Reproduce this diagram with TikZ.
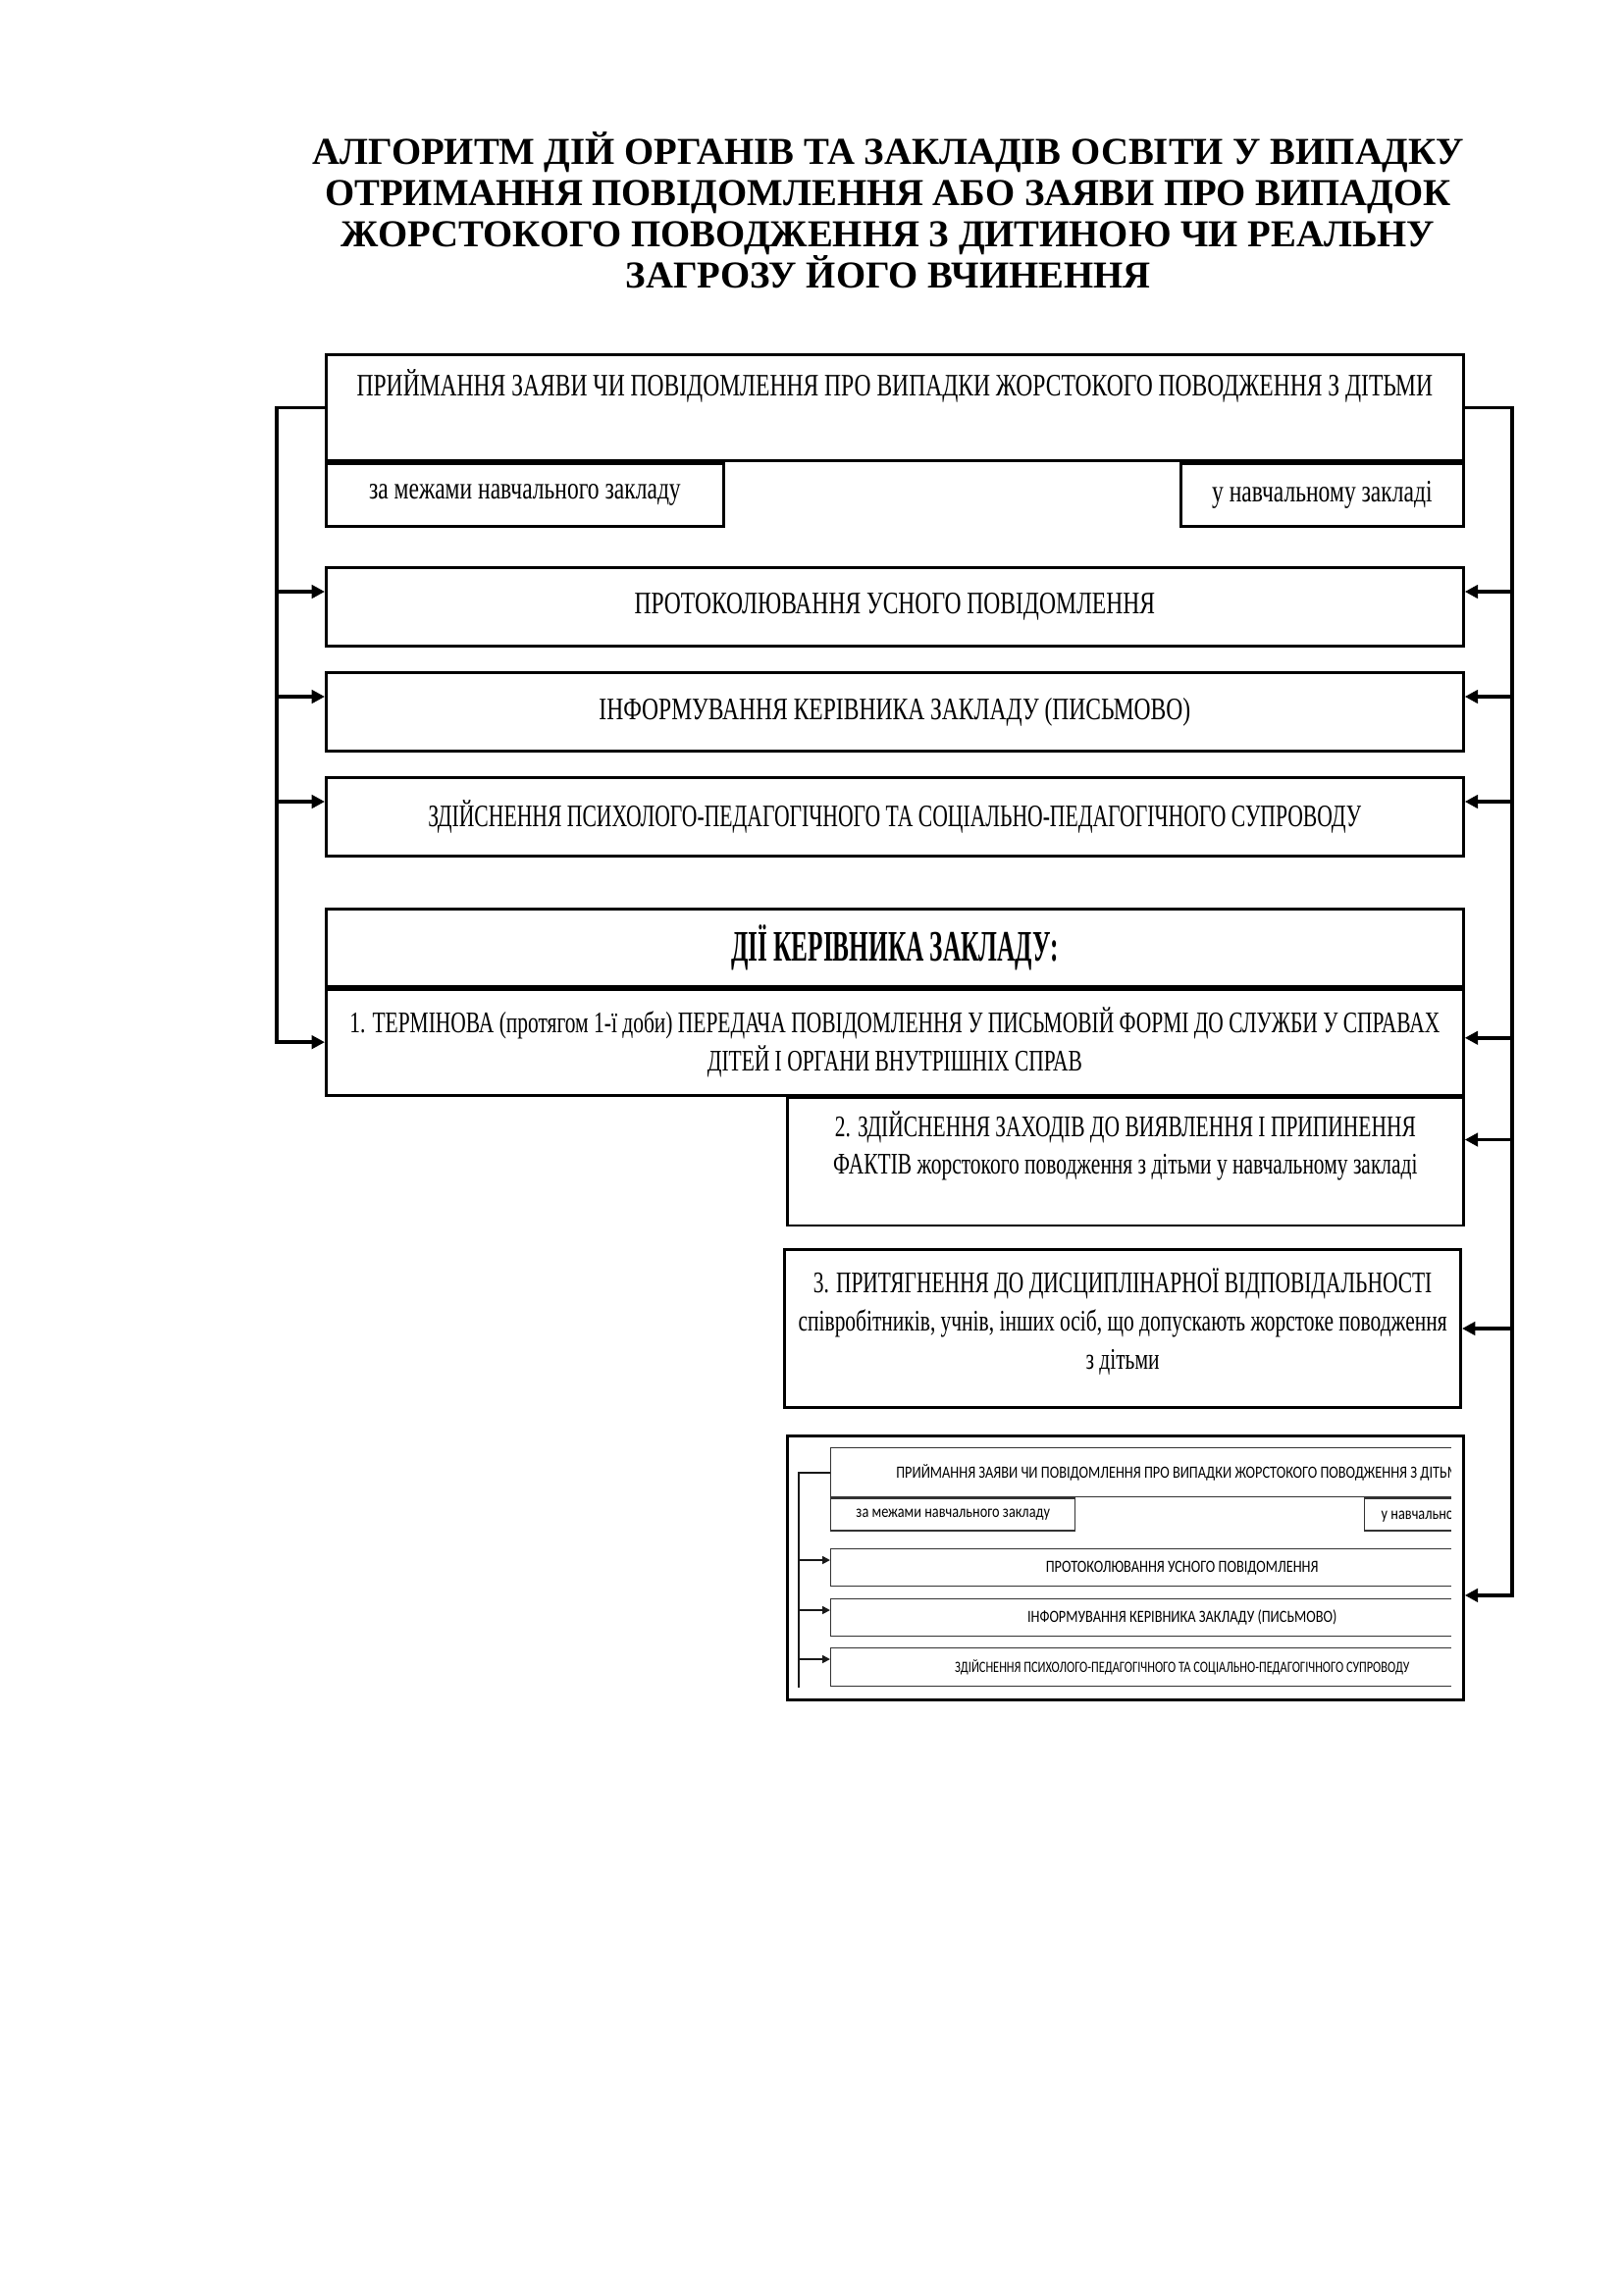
\documentclass[tikz,border=0pt]{standalone}
\usepackage{fontspec}
\setmainfont{Liberation Serif}
\newfontfamily\boxserif[FakeStretch=0.74]{Liberation Serif}
\newfontfamily\suppserif[FakeStretch=0.68]{Liberation Serif}
\newfontfamily\itemserif[FakeStretch=0.705]{Liberation Serif}
\newfontfamily\hdserif[FakeStretch=0.57]{Liberation Serif}
\newfontfamily\minisans[FakeStretch=0.82]{Carlito}
\newfontfamily\minisupp[FakeStretch=0.77]{Carlito}
\usetikzlibrary{arrows.meta,positioning,calc}

\newcommand{\pxl}{0.12697mm}
\newcommand{\ttlfont}{\bfseries\fontsize{14}{15.1}\selectfont}
\newcommand{\boxfont}{\boxserif\fontsize{11.5}{13}\selectfont}
\newcommand{\itmfont}{\itemserif\fontsize{11}{14}\selectfont}
\newcommand{\hdfont}{\hdserif\bfseries\fontsize{16}{18}\selectfont}
\newcommand{\minifont}{\minisans\fontsize{6.3}{7}\selectfont}

\tikzset{
  every node/.append style={inner sep=0pt},
}
\tikzset{
  box/.style={draw, line width=1pt, align=center},
  wide/.style={box, minimum width=1159*\pxl, minimum height=80*\pxl, font=\boxfont},
  arr/.style={-{Triangle[length=1.7mm,width=1.7mm]}, line width=1.3pt},
  minibox/.style={draw=black!80, line width=0.5pt, align=center, font=\minifont},
  minirail/.style={draw=black!90, line width=0.6pt},
  miniarr/.style={minirail, -{Triangle[length=1mm,width=1mm]}}
}

\begin{document}
\begin{tikzpicture}[x=0.12697mm, y=-0.12697mm]
\useasboundingbox (0,0) rectangle (1654,2339);

% ============= Title =============
\node[font=\ttlfont, align=center] (title) at (905,214)
  {АЛГОРИТМ ДІЙ ОРГАНІВ ТА ЗАКЛАДІВ ОСВІТИ У ВИПАДКУ\\
   ОТРИМАННЯ ПОВІДОМЛЕННЯ АБО ЗАЯВИ ПРО ВИПАДОК\\
   ЖОРСТОКОГО ПОВОДЖЕННЯ З ДИТИНОЮ ЧИ РЕАЛЬНУ\\
   ЗАГРОЗУ ЙОГО ВЧИНЕННЯ};

% ============= Intake =============
\node[box, minimum width=1159*\pxl, minimum height=108*\pxl, anchor=north west] (recv) at (331,360) {};
\node[font=\boxfont] (recvtxt) at ([yshift=-33*\pxl]recv.north)
  {ПРИЙМАННЯ ЗАЯВИ ЧИ ПОВІДОМЛЕННЯ ПРО ВИПАДКИ ЖОРСТОКОГО ПОВОДЖЕННЯ З ДІТЬМИ};
\node[box, font=\boxfont, minimum width=405*\pxl, minimum height=64*\pxl,
      anchor=north west] (outside) at (recv.south west) {за межами навчального закладу};
\node[box, font=\boxfont, minimum width=288*\pxl, minimum height=64*\pxl,
      anchor=north east] (inside) at (recv.south east) {у навчальному закладі};

% ============= Common steps =============
\node[wide, anchor=north west] (prot) at (331,577) {ПРОТОКОЛЮВАННЯ УСНОГО ПОВІДОМЛЕННЯ};
\node[wide, anchor=north west] (inf) at (331,684) {ІНФОРМУВАННЯ КЕРІВНИКА ЗАКЛАДУ (ПИСЬМОВО)};
\node[wide, font=\suppserif\fontsize{11.5}{13}\selectfont, anchor=north west] (supp) at (331,791)
  {ЗДІЙСНЕННЯ ПСИХОЛОГО-ПЕДАГОГІЧНОГО ТА СОЦІАЛЬНО-ПЕДАГОГІЧНОГО СУПРОВОДУ};

% ============= Head actions =============
\node[wide, font=\hdfont, minimum height=79*\pxl, anchor=north west] (head) at (331,925)
  {ДІЇ КЕРІВНИКА ЗАКЛАДУ:};
\node[wide, font=\itmfont, minimum height=108*\pxl, anchor=north west] (act1) at (head.south west)
  {1. ТЕРМІНОВА (протягом 1-ї доби) ПЕРЕДАЧА ПОВІДОМЛЕННЯ У ПИСЬМОВІЙ ФОРМІ ДО СЛУЖБИ У СПРАВАХ\\
   ДІТЕЙ І ОРГАНИ ВНУТРІШНІХ СПРАВ};

\node[box, minimum width=689*\pxl, minimum height=130*\pxl, anchor=north east] (act2) at (act1.south east) {};
\node[font=\itmfont, align=center] (act2txt) at ([yshift=16*\pxl]act2.center)
  {2. ЗДІЙСНЕННЯ ЗАХОДІВ ДО ВИЯВЛЕННЯ І ПРИПИНЕННЯ\\
   ФАКТІВ жорстокого поводження з дітьми у навчальному закладі};

\node[box, minimum width=689*\pxl, minimum height=161*\pxl, anchor=north east] (act3) at (1490,1272) {};
\node[font=\itmfont, align=center] (act3txt) at ([yshift=7*\pxl]act3.center)
  {3. ПРИТЯГНЕННЯ ДО ДИСЦИПЛІНАРНОЇ ВІДПОВІДАЛЬНОСТІ\\
   співробітників, учнів, інших осіб, що допускають жорстоке поводження\\
   з дітьми};

% ============= Scheme picture =============
\node[box, minimum width=689*\pxl, minimum height=269*\pxl, anchor=north west] (scheme) at (801,1462) {};
\begin{scope}
  \clip (scheme.north west) rectangle ([xshift=-14*\pxl]scheme.south east);
  \node[minibox, minimum width=716*\pxl, minimum height=50*\pxl, anchor=north west] (mrecv) at (846,1475)
    {ПРИЙМАННЯ ЗАЯВИ ЧИ ПОВІДОМЛЕННЯ ПРО ВИПАДКИ ЖОРСТОКОГО ПОВОДЖЕННЯ З ДІТЬМИ};
  \node[minibox, minimum width=249*\pxl, minimum height=33*\pxl, anchor=north west] (mout) at (mrecv.south west)
    {за межами навчального закладу};
  \node[minibox, minimum width=172*\pxl, minimum height=33*\pxl, anchor=north east] (min) at (mrecv.south east)
    {у навчальному закладі};
  \node[minibox, minimum width=716*\pxl, minimum height=38*\pxl, anchor=north west] (mprot) at (846,1578)
    {ПРОТОКОЛЮВАННЯ УСНОГО ПОВІДОМЛЕННЯ};
  \node[minibox, minimum width=716*\pxl, minimum height=38*\pxl, anchor=north west] (minf) at (846,1629)
    {ІНФОРМУВАННЯ КЕРІВНИКА ЗАКЛАДУ (ПИСЬМОВО)};
  \node[minibox, minimum width=716*\pxl, minimum height=39*\pxl, anchor=north west,
        font=\minisupp\fontsize{5.8}{6.5}\selectfont] (msupp) at (846,1679)
    {ЗДІЙСНЕННЯ ПСИХОЛОГО-ПЕДАГОГІЧНОГО ТА СОЦІАЛЬНО-ПЕДАГОГІЧНОГО СУПРОВОДУ};
  \coordinate (mrail) at (814,1720);
  \draw[minirail] (mrecv.west) -- (mrecv.west -| mrail) -- (mrail);
  \foreach \n in {mprot,minf,msupp} {
    \coordinate (tip) at ([yshift=-12*\pxl]\n.north west);
    \draw[miniarr] (tip -| mrail) -- (tip);
  }
\end{scope}

% ============= Rails =============
\coordinate (lrail) at (282,0);
\coordinate (rrail) at (1541,0);
\coordinate (schemein) at ([yshift=-28*\pxl]scheme.east);
\draw[arr] (recv.west) -- (recv.west -| lrail) -- (act1.west -| lrail) -- (act1.west);
\draw[arr] (recv.east) -- (recv.east -| rrail) -- (schemein -| rrail) -- (schemein);
\foreach \n in {prot,inf,supp} {
  \coordinate (tip) at ([yshift=-26*\pxl]\n.north west);
  \draw[arr] (tip -| lrail) -- (tip);
}
\foreach \n/\d in {prot/26, inf/26, supp/26, act1/51, act2/44, act3/82} {
  \coordinate (tip) at ([yshift=-\d*\pxl]\n.north east);
  \draw[arr] (tip -| rrail) -- (tip);
}

\end{tikzpicture}
\end{document}
